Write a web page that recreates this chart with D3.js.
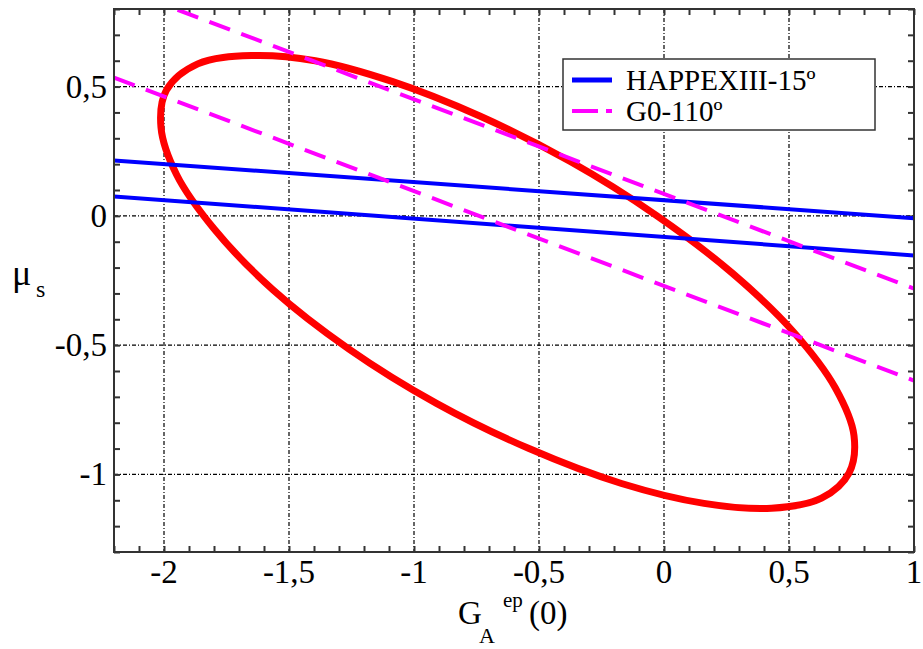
<!DOCTYPE html>
<html><head><meta charset="utf-8">
<script src="https://cdn.jsdelivr.net/npm/d3@7"></script>
<style>body{margin:0;background:#fff}svg{display:block}</style>
</head><body><svg id="c" width="923" height="649" font-family="'Liberation Serif', 'DejaVu Serif', 'Times New Roman', Times, serif"></svg>
<script>
// ---- data ----
const xTicks = [-2, -1.5, -1, -0.5, 0, 0.5, 1];
const yTicks = [-1, -0.5, 0, 0.5];
const ellipseX = [0.740, 0.760, 0.685, 0.520, 0.275, -0.031, -0.375, -0.737, -1.085, -1.395, -1.650, -1.865, -1.990, -2.012, -1.950, -1.800, -1.565, -1.260, -0.910, -0.540, -0.170, 0.160, 0.430, 0.630];
const ellipseY = [-0.995, -0.850, -0.665, -0.451, -0.223, 0.002, 0.210, 0.386, 0.519, 0.600, 0.620, 0.588, 0.487, 0.342, 0.160, -0.050, -0.285, -0.515, -0.725, -0.900, -1.035, -1.112, -1.131, -1.092];
const lineX = [-2.2, 1];
const happexUpperY = [0.214, -0.009];
const happexLowerY = [0.075, -0.153];
const g0UpperY = [0.89, -0.281];
const g0LowerY = [0.535, -0.637];
const legendLabels = ["HAPPEXIII-15º", "G0-110º"];

// ---- layout ----
const svg = d3.select("#c");
const L = 114, R = 914, T = 9, B = 552;
const x = d3.scaleLinear().domain([-2.2, 1]).range([L, R]);
const y = d3.scaleLinear().domain([-1.3, 0.8]).range([B, T]);
const fmt = v => String(v).replace(".", ",");

svg.append("rect").attr("width", 923).attr("height", 649).attr("fill", "#fff");
svg.append("defs").append("clipPath").attr("id", "clip")
  .append("rect").attr("x", L).attr("y", T).attr("width", R - L).attr("height", B - T);

// grid
const grid = svg.append("g").attr("stroke", "#000").attr("stroke-width", 1.2).attr("stroke-dasharray", "4,2,1,2");
xTicks.filter(v => v > -2.2 && v < 1).forEach(v => grid.append("line").attr("x1", x(v)).attr("x2", x(v)).attr("y1", T).attr("y2", B));
yTicks.forEach(v => grid.append("line").attr("y1", y(v)).attr("y2", y(v)).attr("x1", L).attr("x2", R));

// axes with minor ticks (inward, mirrored)
const minorX = d3.range(-22, 11).map(i => i / 10);
const minorY = d3.range(-13, 9).map(i => i / 10);
const tl = 6;
const axB = d3.axisBottom(x).tickValues(minorX).tickSize(-tl).tickFormat("");
const axT = d3.axisTop(x).tickValues(minorX).tickSize(-tl).tickFormat("");
const axL = d3.axisLeft(y).tickValues(minorY).tickSize(-tl).tickFormat("");
const axR = d3.axisRight(y).tickValues(minorY).tickSize(-tl).tickFormat("");
[[axB, `translate(0,${B})`], [axT, `translate(0,${T})`], [axL, `translate(${L},0)`], [axR, `translate(${R},0)`]].forEach(([a, t]) => {
  const g = svg.append("g").attr("transform", t).call(a);
  g.select(".domain").remove();
  g.selectAll("line").attr("stroke", "#333").attr("stroke-width", 2);
});

// tick labels
svg.append("g").selectAll("text").data(xTicks).join("text")
  .attr("x", d => x(d)).attr("y", 583).attr("text-anchor", "middle")
  .attr("font-size", 33).attr("fill", "#000").text(fmt);
svg.append("g").selectAll("text").data(yTicks).join("text")
  .attr("x", 107).attr("y", d => y(d) + 11).attr("text-anchor", "end")
  .attr("font-size", 33).attr("fill", "#000").text(fmt);

// data marks
const plot = svg.append("g").attr("clip-path", "url(#clip)");
const ell = ellipseX.map((v, i) => [x(v), y(ellipseY[i])]);
plot.append("path").attr("d", d3.line().curve(d3.curveCatmullRomClosed)(ell))
  .attr("fill", "none").attr("stroke", "#ff0000").attr("stroke-width", 7);
const ln = d3.line().x(d => x(d[0])).y(d => y(d[1]));
[happexUpperY, happexLowerY].forEach(ys => plot.append("path").attr("d", ln(lineX.map((v, i) => [v, ys[i]])))
  .attr("stroke", "#0000ff").attr("stroke-width", 4).attr("fill", "none"));
[g0UpperY, g0LowerY].forEach(ys => plot.append("path").attr("d", ln(lineX.map((v, i) => [v, ys[i]])))
  .attr("stroke", "#ff00ff").attr("stroke-width", 4).attr("stroke-dasharray", "22,12").attr("fill", "none"));

// frame
svg.append("rect").attr("x", L).attr("y", T).attr("width", R - L).attr("height", B - T)
  .attr("fill", "none").attr("stroke", "#333").attr("stroke-width", 2);

// legend
const lg = svg.append("g");
lg.append("rect").attr("x", 563).attr("y", 59).attr("width", 312).attr("height", 71)
  .attr("fill", "#fff").attr("stroke", "#333").attr("stroke-width", 1.5);
lg.append("line").attr("x1", 572).attr("x2", 612).attr("y1", 80).attr("y2", 80).attr("stroke", "#0000ff").attr("stroke-width", 5);
lg.append("line").attr("x1", 572).attr("x2", 612).attr("y1", 111).attr("y2", 111).attr("stroke", "#ff00ff").attr("stroke-width", 4).attr("stroke-dasharray", "26,8");
lg.selectAll("text").data(legendLabels).join("text")
  .attr("x", 626).attr("y", (d, i) => 90 + i * 31).attr("font-size", 29).attr("fill", "#000").text(d => d);

// axis titles
svg.append("text").attr("x", 458).attr("y", 624).attr("font-size", 33).text("G");
svg.append("text").attr("x", 479).attr("y", 643).attr("font-size", 22).text("A");
svg.append("text").attr("x", 503).attr("y", 607).attr("font-size", 21).text("ep");
svg.append("text").attr("x", 529).attr("y", 624).attr("font-size", 33).text("(0)");
svg.append("text").attr("x", 12).attr("y", 285).attr("font-size", 36).text("μ");
svg.append("text").attr("x", 36).attr("y", 297).attr("font-size", 24).text("s");
</script></body></html>
